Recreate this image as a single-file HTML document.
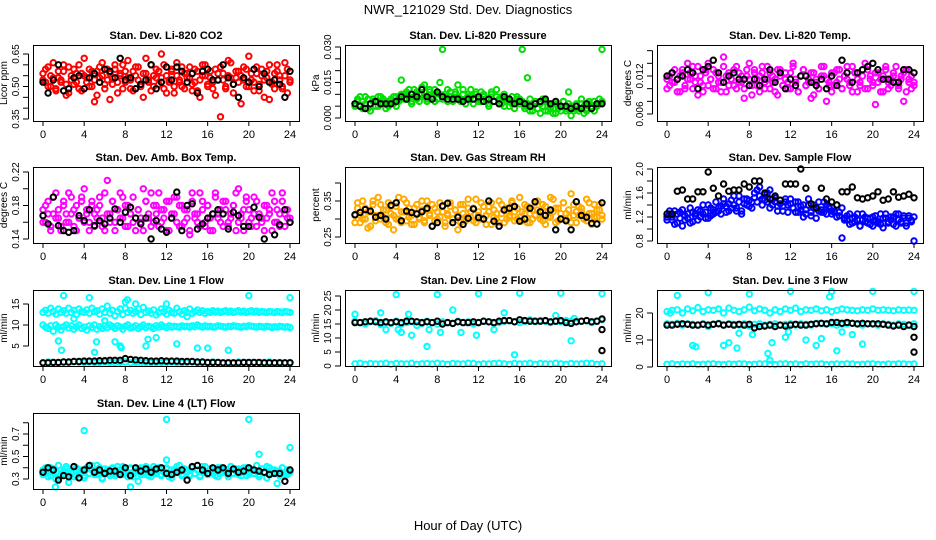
<!DOCTYPE html>
<html><head><meta charset="utf-8"><style>
html,body{margin:0;padding:0;background:#fff;}
svg{display:block;font-family:"Liberation Sans",Arial,sans-serif;}
</style></head><body>
<svg id="c" width="936" height="540" viewBox="0 0 936 540" xmlns="http://www.w3.org/2000/svg">
<text x="468" y="14" text-anchor="middle" font-size="13">NWR_121029 Std. Dev. Diagnostics</text>
<text x="468" y="530" text-anchor="middle" font-size="13">Hour of Day (UTC)</text>
</svg>
<script>
// ---- data (integer strings scaled per panel) ----
const co2A = "56 52 59 50 54 48 57 53 60 51 47 55 58 52 49 56 63 54 50 57 53 46 59 55 51 58 44 54 60 52 56 49 57 62 53 48 55 59 51 45 56 53 60 50 54 57 65 49 55 52 58 47 61 53 50 56 54 59 48 52 57 45 55 60 51 54 49 58 53 36 56 50 62 54 47 57 52 55 59 50 64 53 48 56 51 58 45 54 60 52 49 57 55 50 61 47 53";
const co2B = "53 58 50 55 61 49 54 52 57 46 59 53 51 56 60 48 55 52 58 50 43 57 54 61 49 53 56 51 58 47 55 60 52 54 49 57 59 53 50 56 63 52 48 55 58 51 54 60 47 53 57 50 55 52 59 49 56 54 51 58 48 53 60 55 50 57 52 46 56 59 53 49 55 61 51 54 57 42 53 58 50 56 52 59 48 55 53 57 44 51 56 60 53 49 55 58 52";
const co2K = "52 47 53 60 48 49 54 55 49 54 56 52 58 57 54 63 53 54 49 51 53 60 49 52 59 53 59 57 52 56 47 57 58 53 53 60 54 51 45 54 52 58 50 56 52 53 51 45 57";
const prA = "6 8 5 7 9 4 6 8 7 5 9 6 7 5 8 6 9 7 10 8 11 9 7 12 8 10 13 9 7 11 9 12 8 10 29 9 7 11 8 10 9 7 12 8 10 9 6 11 8 7 10 8 6 11 7 9 8 6 10 7 5 9 7 8 6 29 4 17 8 3 6 4 2 5 7 3 5 6 2 4 5 7 3 6 1 4 5 3 6 2 4 7 5 3 6 8 29";
const prB = "5 7 9 4 6 8 3 7 5 9 6 8 4 6 7 9 5 8 16 10 8 12 6 9 11 7 10 14 8 12 9 7 11 15 8 10 12 9 7 11 14 8 10 6 9 12 8 10 7 11 9 8 5 10 7 12 6 9 5 8 7 6 4 9 8 7 5 6 3 5 7 4 6 8 3 5 4 2 6 5 3 7 4 11 5 3 6 4 8 5 3 6 4 7 5 6 7";
const prK = "6 5 4 6 7 6 6 6 7 9 8 10 9 12 9 8 11 9 8 8 8 7 8 8 9 7 8 7 6 9 8 6 7 6 5 6 7 8 6 7 5 5 4 5 4 6 4 6 6";
const tmA = "115 105 125 110 95 120 130 100 115 125 135 110 90 120 105 130 140 115 100 125 110 95 135 120 105 115 130 100 125 110 85 120 140 105 130 115 95 125 110 135 100 120 115 90 130 105 125 110 100 135 115 95 120 130 105 110 125 90 115 100 135 120 80 110 125 105 130 115 100 120 135 110 95 125 115 105 130 140 100 120 110 75 125 115 95 130 110 105 120 135 100 115 125 95 110 120 105";
const tmB = "100 120 110 130 115 95 125 105 140 115 100 120 135 110 95 125 105 115 130 100 120 110 150 95 125 115 105 135 110 120 100 130 115 90 125 105 120 135 100 115 125 110 95 130 120 105 115 100 125 140 110 95 120 130 105 115 85 125 110 100 120 135 115 105 95 125 110 130 100 120 115 105 135 125 95 110 120 100 130 115 105 125 110 95 120 135 100 115 125 110 105 120 80 130 115 100 110";
const tmK = "120 125 115 120 130 125 100 130 135 145 125 110 120 125 115 115 105 115 105 115 130 110 125 100 115 105 120 120 110 105 115 100 120 105 145 125 110 125 130 135 140 130 115 115 110 110 130 130 125";
const abA = "175 160 185 150 170 195 165 155 180 170 160 190 175 150 165 185 200 170 160 180 155 175 190 165 150 210 170 185 160 175 195 165 155 180 170 190 150 175 160 200 185 165 155 180 170 195 160 175 150 185 165 170 190 155 180 160 175 145 195 165 170 155 185 160 180 150 170 195 165 175 155 185 160 170 180 150 200 165 175 190 160 155 170 185 235 165 150 180 170 195 160 175 155 185 170 165 160";
const abB = "160 180 170 155 190 165 175 150 185 160 195 170 155 180 165 190 160 175 150 185 170 165 180 155 195 170 160 185 150 175 165 190 180 155 170 160 225 175 165 150 185 170 195 160 180 155 175 165 185 150 170 190 160 180 155 175 165 150 185 170 160 195 175 155 180 165 150 190 170 160 185 175 155 165 180 195 160 170 150 185 175 165 190 155 170 160 180 165 175 150 185 160 170 195 155 175 165";
const abK = "168 158 190 156 150 148 150 168 162 175 156 162 158 165 176 160 172 178 165 158 165 140 162 152 148 165 196 150 180 182 152 158 165 170 175 170 152 172 168 155 155 178 166 140 136 145 157 175 160";
const rhA = "310 330 290 350 300 320 280 340 310 360 300 325 290 345 315 270 335 300 320 355 295 330 310 285 340 305 325 295 350 315 280 330 300 345 320 290 310 335 300 325 270 340 315 295 355 305 330 290 320 345 300 310 335 285 325 300 350 315 290 330 305 345 320 300 360 295 315 335 290 325 310 350 300 340 285 320 305 355 330 295 315 345 300 325 370 310 290 335 320 300 355 315 285 340 305 325 310";
const rhB = "290 345 310 300 330 275 320 350 295 310 340 305 325 285 335 310 300 360 290 320 345 305 285 330 315 300 350 290 325 310 340 295 320 305 335 280 315 345 300 325 310 290 340 305 330 320 295 355 310 300 335 285 320 345 305 315 290 340 325 300 310 350 295 330 305 320 340 290 315 300 345 325 310 295 335 305 360 320 290 330 300 345 315 305 290 340 320 310 330 300 295 345 315 305 325 340 300";
const rhK = "312 318 326 322 305 310 300 338 345 295 322 318 314 320 330 280 290 336 344 290 305 285 302 328 304 300 350 294 280 325 330 335 294 300 330 348 320 310 325 270 300 295 270 348 310 305 288 286 345";
const sfA = "120 125 115 130 110 128 105 122 118 135 112 126 132 120 140 128 118 135 125 145 130 138 150 128 142 135 155 130 145 125 150 140 148 135 160 145 170 150 158 145 165 140 152 138 148 130 145 140 150 135 128 145 132 140 125 150 122 140 135 130 128 145 125 138 130 128 140 122 135 118 115 125 110 120 115 105 125 112 118 108 120 115 110 125 102 118 112 120 108 125 115 110 122 105 118 112 80";
const sfB = "115 130 120 108 125 118 132 115 125 110 128 122 115 130 125 118 140 122 132 128 135 125 142 138 130 148 140 135 155 130 142 150 138 145 152 165 155 140 148 160 135 150 145 130 142 138 150 128 142 135 145 128 138 120 132 140 128 135 118 145 132 128 140 135 125 130 120 128 85 115 122 108 118 112 125 105 115 120 110 118 105 122 112 108 118 125 110 115 120 105 125 112 118 110 122 115 120";
const sfK = "125 125 163 165 150 150 162 162 195 168 155 175 163 165 165 175 170 180 180 160 150 155 148 175 175 175 200 168 142 135 168 150 145 140 162 162 170 152 150 152 155 162 148 150 162 153 155 158 152";
const l1A = "130 135 128 140 132 126 138 130 134 128 140 130 135 125 138 132 130 136 128 140 132 134 126 138 130 145 128 135 122 132 138 125 140 130 135 128 132 138 125 142 130 133 128 136 124 130 138 132 126 135 130 128 140 132 126 134 130 138 128 132 136 130 134 128 132 130 134 131 133 130 132 134 131 133 130 132 134 131 133 130 132 134 131 133 130 132 131 130 132 131 130 132 131 130 132 131 130";
const l1B = "100 95 92 98 85 100 95 88 96 100 93 98 90 96 100 92 95 88 98 94 100 90 96 92 98 94 100 96 92 98 95 90 97 100 93 95 98 92 96 100 94 97 95 92 98 95 100 96 94 98 95 97 96 95 98 96 97 95 98 96 100 97 95 98 96 97 95 96 98 97 96 95 97 96 98 97 96 95 97 96 98 97 96 95 97 96 95 97 96 94 96 95 97 96 95 96 94";
const l1C = "10 12 11 10 12 11 13 12 11 12 10 11 12 11 10 11 12 10 11 10 11 10 11 10 11 12 11 10 11 12 10 11 10 12 11 10 11 10 12 11 10 11 10 11 12 10 11 10 11";
const l1K = "10 10 11 11 12 12 13 13 14 14 14 15 15 16 16 16 20 18 17 16 15 14 14 15 14 14 14 13 13 13 12 12 11 11 11 10 10 10 10 11 11 11 11 10 10 10 10 10 10";
const l1OutX = [2,4.5,8.2,1.5,1.8,5,5.2,7.5,7.6,10,10.2,11,13,15,16,18,20,24,3,6,9,12,14,7,8];
const l1OutY = [170,165,160,62,40,35,60,50,46,50,66,70,55,45,45,40,170,165,115,110,150,150,120,60,155];
const l2A = "160 155 150 158 162 148 155 152 160 150 155 158 145 152 160 155 150 158 155 152 160 155 158 150 155 160 158 152 155 160 162 158 155 160 165 158 162 160 155 160 158 162 160 158 160 162 155 160 165";
const l2C = "8 10 6 9 7 8 10 6 9 8 7 10 6 8 9 7 10 8 6 9 8 7 10 9 6 8 7 9 10 8 6 9 7 8 10 6 9 8 7 10 8 6 9 7 8 10 9 6 8";
const l2K = "155 155 158 160 158 155 158 155 158 155 160 160 158 155 158 155 160 150 155 152 158 155 155 158 155 160 158 155 160 162 162 158 165 162 160 160 160 162 158 160 162 155 152 158 160 162 158 160 168";
const l2OutX = [0,2.5,4,3,4.2,4.5,5.2,5.5,7,7.2,8,8.3,9.5,10.3,11.8,12,13.5,14.5,15.5,16,20,19.5,21,21.3,24];
const l2OutY = [185,190,255,130,130,120,185,110,70,130,255,120,200,120,110,258,130,190,40,260,260,180,90,170,258];
const l2KOutX = [24,24];
const l2KOutY = [130,55];
const l3A = "205 210 212 200 215 208 220 205 212 210 215 200 218 210 205 212 222 208 215 210 200 212 205 215 210 218 205 212 210 215 208 212 205 210 215 212 210 208 212 210 215 210 212 210 208 212 210 211 210";
const l3B = "160 158 162 155 160 158 155 160 150 158 162 155 160 158 155 160 152 158 160 155 158 160 155 158 160 155 160 158 155 162 160 158 160 155 158 160 162 158 155 160 158 155 160 158 155 160 158 155 160";
const l3C = "10 12 9 11 10 12 9 10 11 12 10 9 11 10 12 11 9 10 12 11 10 9 11 12 10 11 9 12 10 11 12 9 10 11 10 12 11 9 10 11 12 10 9 11 10 12 11 10 11";
const l3K = "155 155 158 160 158 155 155 158 155 158 160 155 158 155 158 155 158 145 150 152 155 150 155 152 155 158 155 155 158 160 162 160 165 165 162 165 162 160 162 160 160 160 158 155 152 155 150 155 150";
const l3OutX = [0.3,1,2.5,2.8,4,5.5,6,6.8,7,8,8.3,9.8,10,10.2,11.5,11.8,12,13.5,14.5,15,15.8,16,16.5,17,18,19,20,24];
const l3OutY = [200,265,80,75,275,80,90,70,125,270,120,50,25,90,110,130,280,100,80,105,260,280,60,130,120,85,280,280];
const l3KOutX = [24,24];
const l3KOutY = [110,55];
const l4A = "38 35 32 40 36 30 42 34 37 39 27 35 41 33 38 36 31 40 35 38 34 42 36 30 39 37 33 40 35 38 34 41 36 32 39 35 37 28 40 34 38 36 32 41 35 39 33 37 40 35 31 38 36 42 34 39 36 33 40 35 38 32 41 36 34 39 37 33 40 35 38 36 32 41 35 39 34 37 40 33 36 38 35 42 34 39 36 31 40 35 38 26 37 40 34 38 36";
const l4B = "34 40 37 33 39 36 31 38 35 41 34 37 32 40 36 38 33 39 35 42 37 34 40 31 36 38 35 39 33 41 36 34 38 35 40 32 37 39 34 36 41 33 38 35 37 40 34 36 39 32 38 35 41 36 33 39 37 34 40 35 38 33 36 41 34 39 35 37 32 40 36 38 34 41 35 37 39 33 36 40 34 38 35 37 32 39 36 41 34 38 35 37 33 40 36 34 38";
const l4K = "36 40 38 29 33 32 41 31 38 42 36 38 35 37 37 34 40 33 40 37 39 36 39 40 35 34 36 38 29 41 42 38 35 40 38 40 35 39 36 37 40 38 37 36 34 35 35 28 38";
const l4OutX = [4,12,20,24,21,12,1.2,8.5];
const l4OutY = [73,83,83,58,52,47,23,23];
const xTicks = [0,4,8,12,16,20,24];

// ---- layout ----
const colLeft = [33,345,657], rowTop = [45,167,290,413], BW = 266, BH = 76;
const NS = "http://www.w3.org/2000/svg";
const svg = document.getElementById('c');
function mk(tag, attrs, parent){const e=document.createElementNS(NS,tag);for(const k in attrs)e.setAttribute(k,attrs[k]);(parent||svg).appendChild(e);return e;}
function parse(s){return s.trim().split(/\s+/).map(Number);}

const panels = [
 {key:'co2',title:'Stan. Dev. Li-820 CO2',ylab:'Licor ppm',c:0,r:0,scale:0.01,v1:0.35,p1:119,v2:0.65,p2:54,ticks:[0.35,0.40,0.45,0.50,0.55,0.60,0.65],labs:[0.35,0.50,0.65],dec:2,color:'#ff0000',series:[co2A,co2B],black:[co2K]},
 {key:'pressure',title:'Stan. Dev. Li-820 Pressure',ylab:'kPa',c:1,r:0,scale:0.001,v1:0,p1:118,v2:0.03,p2:47,ticks:[0,0.005,0.01,0.015,0.02,0.025,0.03],labs:[0,0.015,0.03],dec:3,color:'#00e000',series:[prA,prB],black:[prK]},
 {key:'temp',title:'Stan. Dev. Li-820 Temp.',ylab:'degrees C',c:2,r:0,scale:0.0001,v1:0.006,p1:114,v2:0.012,p2:76,ticks:[0.006,0.008,0.01,0.012,0.014,0.016],labs:[0.006,0.012],dec:3,color:'#ff00ff',series:[tmA,tmB],black:[tmK]},
 {key:'ambbox',title:'Stan. Dev. Amb. Box Temp.',ylab:'degrees C',c:0,r:1,scale:0.001,v1:0.14,p1:239,v2:0.22,p2:172,ticks:[0.14,0.16,0.18,0.2,0.22],labs:[0.14,0.18,0.22],dec:2,color:'#ff00ff',series:[abA,abB],black:[abK]},
 {key:'rh',title:'Stan. Dev. Gas Stream RH',ylab:'percent',c:1,r:1,scale:0.001,v1:0.25,p1:237,v2:0.35,p2:201,ticks:[0.25,0.3,0.35,0.4],labs:[0.25,0.35],dec:2,color:'#ffaa00',series:[rhA,rhB],black:[rhK]},
 {key:'sampleflow',title:'Stan. Dev. Sample Flow',ylab:'ml/min',c:2,r:1,scale:0.01,v1:0.8,p1:241,v2:2.0,p2:169,ticks:[0.8,1.0,1.2,1.4,1.6,1.8,2.0],labs:[0.8,1.2,1.6,2.0],dec:1,color:'#0000ff',series:[sfA,sfB],black:[sfK]},
 {key:'line1',title:'Stan. Dev. Line 1 Flow',ylab:'ml/min',c:0,r:2,scale:0.1,v1:5,p1:346,v2:15,p2:304,ticks:[5,10,15],labs:[5,10,15],dec:0,color:'#00ffff',series:[l1A,l1B,l1C],black:[l1K],outX:l1OutX,outY:l1OutY},
 {key:'line2',title:'Stan. Dev. Line 2 Flow',ylab:'ml/min',c:1,r:2,scale:0.1,v1:0,p1:366,v2:25,p2:296,ticks:[0,5,10,15,20,25],labs:[0,5,10,15,20,25],dec:0,color:'#00ffff',series:[l2A,l2C],black:[l2K],outX:l2OutX,outY:l2OutY,kOutX:l2KOutX,kOutY:l2KOutY},
 {key:'line3',title:'Stan. Dev. Line 3 Flow',ylab:'ml/min',c:2,r:2,scale:0.1,v1:0,p1:367,v2:20,p2:313,ticks:[0,10,20],labs:[0,10,20],dec:0,color:'#00ffff',series:[l3A,l3B,l3C],black:[l3K],outX:l3OutX,outY:l3OutY,kOutX:l3KOutX,kOutY:l3KOutY},
 {key:'line4',title:'Stan. Dev. Line 4 (LT) Flow',ylab:'ml/min',c:0,r:3,scale:0.01,v1:0.3,p1:479,v2:0.7,p2:434,ticks:[0.3,0.4,0.5,0.6,0.7,0.8],labs:[0.3,0.5,0.7],dec:1,color:'#00ffff',series:[l4A,l4B],black:[l4K],outX:l4OutX,outY:l4OutY}
];

panels.forEach(p=>{
  const L=colLeft[p.c], T=rowTop[p.r];
  const xs = h => L+10+h*247/24;
  const ys = v => p.p1+(v-p.v1)*(p.p2-p.p1)/(p.v2-p.v1);
  const g = mk('g',{});
  
  
  const t = mk('text',{x:L+BW/2,y:T-6,'text-anchor':'middle','font-size':11,'font-weight':'bold'},g);
  t.textContent=p.title;
  
  
  const pts = mk('g',{fill:'none','stroke-width':2},g);
  
  
  function dot(h,v,col){
    const y=ys(v); if(y<T+1||y>T+BH-1) return;
    const c=mk('circle',{cx:xs(h).toFixed(1),cy:y.toFixed(1),r:2.7,stroke:col},pts);
    
    
  }
  p.series.forEach(s=>{const a=parse(s);a.forEach((v,i)=>dot(i*24/(a.length-1),v*p.scale,p.color));});
  if(p.outX) p.outX.forEach((h,i)=>dot(h,p.outY[i]*p.scale,p.color));
  p.black.forEach(s=>{const a=parse(s);a.forEach((v,i)=>dot(i*24/(a.length-1),v*p.scale,'#000'));});
  if(p.kOutX) p.kOutX.forEach((h,i)=>dot(h,p.kOutY[i]*p.scale,'#000'));
  const box=mk('rect',{x:L+0.5,y:T+0.5,width:BW,height:BH,fill:'none',stroke:'#000','stroke-width':1},g);
  
  
  const xa=mk('g',{},g);
  
  
  mk('line',{x1:xs(0),x2:xs(24),y1:T+BH+0.5,y2:T+BH+0.5,stroke:'#000'},xa);
  xTicks.forEach(h=>{
    mk('line',{x1:xs(h),x2:xs(h),y1:T+BH,y2:T+BH+5,stroke:'#000'},xa);
    const tx=mk('text',{x:xs(h),y:T+BH+17,'text-anchor':'middle','font-size':11},xa);
    tx.textContent=h;
  });
  const ya=mk('g',{},g);
  
  
  const tv=p.ticks.map(ys);
  mk('line',{x1:L+0.5-5,x2:L+0.5-5,y1:Math.min(...tv),y2:Math.max(...tv),stroke:'#000'},ya);
  p.ticks.forEach(v=>{mk('line',{x1:L-10,x2:L-4.5,y1:ys(v),y2:ys(v),stroke:'#000'},ya);});
  p.labs.forEach(v=>{
    const y=ys(v), x=L-14;
    const tx=mk('text',{x:x,y:y,'text-anchor':'middle','font-size':10,transform:`rotate(-90 ${x} ${y})`},ya);
    tx.textContent=v.toFixed(p.dec);
  });
  const yl=mk('text',{x:L-26,y:T+BH/2,'text-anchor':'middle','font-size':10,transform:`rotate(-90 ${L-26} ${T+BH/2})`},g);
  yl.textContent=p.ylab;
  
  
});
</script>
</body></html>
